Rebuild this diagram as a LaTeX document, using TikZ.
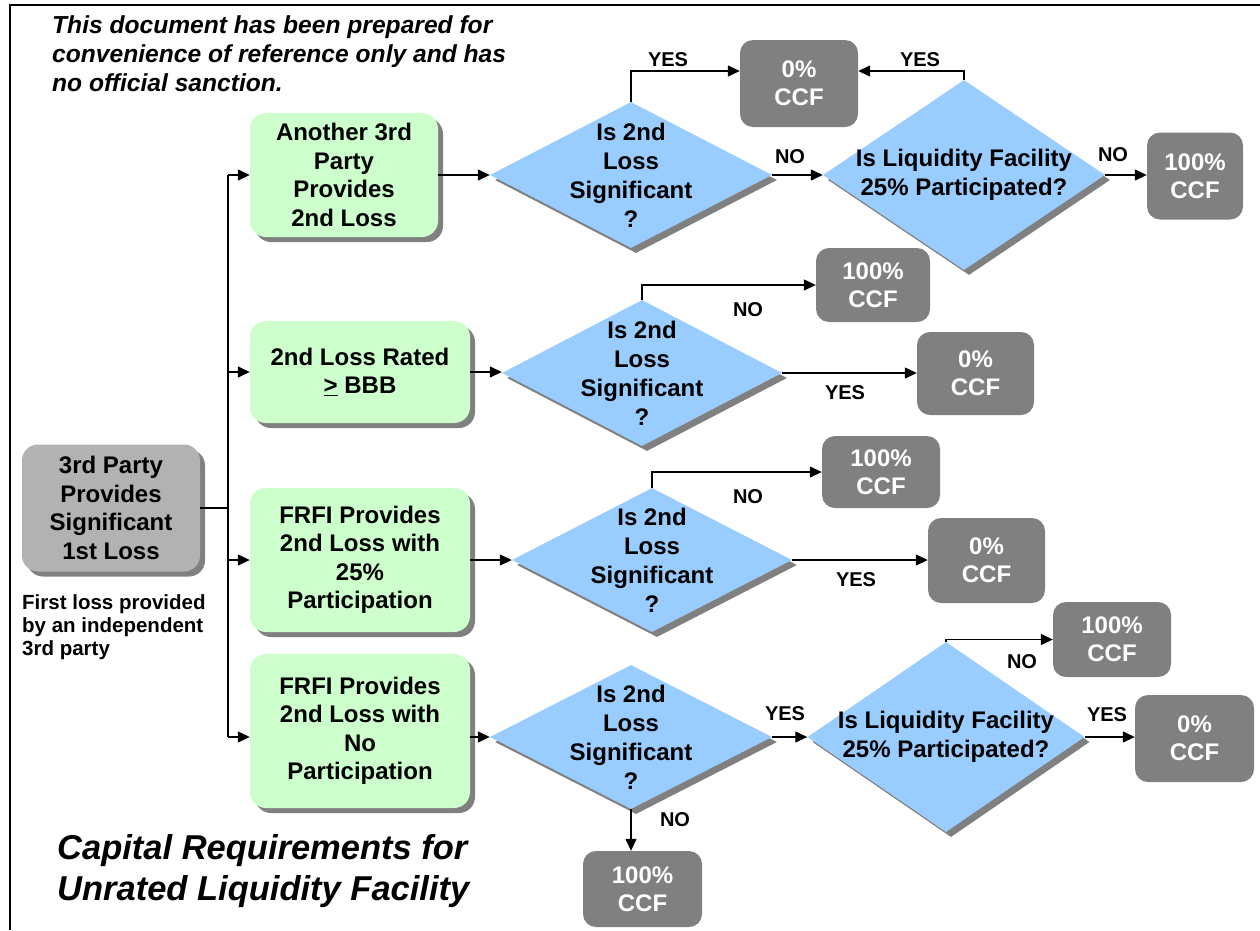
\documentclass[tikz,border=0pt]{standalone}
\usepackage{fontspec}
\setmainfont{Liberation Sans}
\usetikzlibrary{shapes.geometric,arrows.meta,shadows}
\definecolor{greenfill}{HTML}{CCFFCC}
\definecolor{bluefill}{HTML}{99CCFF}
\definecolor{ccfgray}{HTML}{808080}
\definecolor{startgray}{HTML}{B2B2B2}
\definecolor{shadowgray}{HTML}{808080}
\tikzset{
  shad/.style={drop shadow={shadow xshift=5pt, shadow yshift=-5pt, fill=shadowgray, opacity=1}},
  ccf/.style={rectangle, rounded corners=13pt, fill=ccfgray, text=white, inner sep=0pt,
    font=\fontsize{24}{28}\selectfont\bfseries, align=center},
  gbox/.style={rectangle, rounded corners=16pt, fill=greenfill, inner sep=0pt, shad,
    font=\fontsize{24}{28.5}\selectfont\bfseries, align=center},
  sbox/.style={rectangle, rounded corners=16pt, fill=startgray, inner sep=0pt, shad,
    font=\fontsize{24}{28.5}\selectfont\bfseries, align=center},
  dia/.style={diamond, fill=bluefill, inner sep=0pt, shad},
  dtxt/.style={font=\fontsize{24}{29}\selectfont\bfseries, align=center, inner sep=0pt},
  lbl/.style={font=\fontsize{20}{22}\selectfont\bfseries, inner sep=0pt},
  ln/.style={line width=1.3pt},
  arr/.style={line width=1.3pt, -{Triangle[length=12pt,width=11pt]}},
}
\begin{document}
\begin{tikzpicture}[x=1pt,y=-1pt]
\useasboundingbox (0,0) rectangle (1260,930);
% frame
\draw[line width=2pt] (10,930) -- (10,5) -- (1260,5);

% notes and title
\node[anchor=north west, align=left, inner sep=0pt, font=\fontsize{24.6}{29}\selectfont\bfseries\itshape] (note) at (52,15)
  {This document has been prepared for\\convenience of reference only and has\\no official sanction.};
\node[anchor=north west, align=left, inner sep=0pt, font=\fontsize{34.5}{41}\selectfont\bfseries\itshape] (title) at (57,834)
  {Capital Requirements for\\Unrated Liquidity Facility};

% start box
\node[sbox, minimum width=178pt, minimum height=127pt] (lb) at (111,508)
  {3rd Party\\Provides\\Significant\\1st Loss};
\node[anchor=north west, align=left, inner sep=0pt, font=\fontsize{20.5}{23}\selectfont\bfseries] (cap) at (22,594)
  {First loss provided\\by an independent\\3rd party};

% green boxes
\node[gbox, minimum width=188pt, minimum height=124pt] (g1) at (344,175) {Another 3rd\\Party\\Provides\\2nd Loss};
\node[gbox, minimum width=220pt, minimum height=102pt] (g2) at (360,372) {2nd Loss Rated\\\underline{>} BBB};
\node[gbox, minimum width=220pt, minimum height=144pt] (g3) at (360,560) {FRFI Provides\\2nd Loss with\\25\%\\Participation};
\node[gbox, minimum width=220pt, minimum height=154pt] (g4) at (360,731) {FRFI Provides\\2nd Loss with\\No\\Participation};

% diamonds
\node[dia, minimum width=282pt, minimum height=146pt] (d1) at (631,175) {};
\node[dtxt] (d1t) at (d1) {Is 2nd\\Loss\\Significant\\?};
\node[dia, minimum width=282pt, minimum height=190pt] (d2) at (964,175) {};
\node[dtxt] (d2t) at (d2) {Is Liquidity Facility\\25\% Participated?};
\node[dia, minimum width=280pt, minimum height=146pt] (d3) at (642,373) {};
\node[dtxt] (d3t) at (d3) {Is 2nd\\Loss\\Significant\\?};
\node[dia, minimum width=280pt, minimum height=144pt] (d4) at (652,560) {};
\node[dtxt] (d4t) at (d4) {Is 2nd\\Loss\\Significant\\?};
\node[dia, minimum width=282pt, minimum height=144pt] (d5) at (631,737) {};
\node[dtxt] (d5t) at (d5) {Is 2nd\\Loss\\Significant\\?};
\node[dia, minimum width=277pt, minimum height=190pt] (d6) at (946,737) {};
\node[dtxt] (d6t) at (d6) {Is Liquidity Facility\\25\% Participated?};

% CCF boxes
\node[ccf, minimum width=118pt, minimum height=87pt] (c1) at (799,83.5) {0\%\\CCF};
\node[ccf, minimum width=96pt, minimum height=87pt] (c2) at (1195,176) {100\%\\CCF};
\node[ccf, minimum width=114pt, minimum height=74pt] (c3) at (873,285) {100\%\\CCF};
\node[ccf, minimum width=117pt, minimum height=83pt] (c4) at (975.5,373.5) {0\%\\CCF};
\node[ccf, minimum width=118pt, minimum height=72pt] (c5) at (881,472) {100\%\\CCF};
\node[ccf, minimum width=117pt, minimum height=85pt] (c6) at (986.5,560.5) {0\%\\CCF};
\node[ccf, minimum width=119pt, minimum height=76pt] (c7) at (642.5,889) {100\%\\CCF};
\node[ccf, minimum width=118pt, minimum height=75pt] (c8) at (1112,639.5) {100\%\\CCF};
\node[ccf, minimum width=119pt, minimum height=87pt] (c9) at (1194.5,738.5) {0\%\\CCF};

% trunk
\coordinate (t1) at (228,175);
\coordinate (t2) at (228,372);
\coordinate (t3) at (228,560);
\coordinate (t4) at (228,737);
\draw[ln] (lb.east) -- (lb.east -| t1);
\draw[ln] (t1) -- (t4);
\draw[arr] (t1) -- (g1.west);
\draw[arr] (t2) -- (g2.west);
\draw[arr] (t3) -- (g3.west);
\draw[arr] (t4) -- (t4 -| g4.west);

% boxes to diamonds
\draw[arr] (g1.east) -- (d1.west);
\draw[arr] (g2.east) -- (g2.east -| d3.west);
\draw[arr] (g3.east) -- (d4.west);
\draw[arr] (g4.east |- d5.west) -- (d5.west);

% row 1
\draw[arr] (d1.north) |- ([yshift=12.5pt]c1.west);
\draw[arr] (d2.north) |- ([yshift=12.5pt]c1.east);
\draw[arr] (d1.east) -- (d2.west);
\draw[arr] (d2.east) -- (d2.east -| c2.west);
\node[lbl] (y1) at (668,60) {YES};
\node[lbl] (y2) at (920,60) {YES};
\node[lbl] (n1) at (790,157) {NO};
\node[lbl] (n2) at (1113,155) {NO};

% row 2
\draw[arr] (d3.north) |- (c3.west);
\draw[arr] (d3.east) -- (d3.east -| c4.west);
\node[lbl] (n3) at (748,310) {NO};
\node[lbl] (y3) at (845,393) {YES};

% row 3
\draw[arr] (d4.north) |- (c5.west);
\draw[arr] (d4.east) -- (d4.east -| c6.west);
\node[lbl] (n4) at (748,497) {NO};
\node[lbl] (y4) at (856,580) {YES};

% row 4
\draw[arr] (d5.south) -- (d5.south |- c7.north);
\draw[arr] (d5.east) -- (d6.west);
\draw[arr] (d6.north) |- (c8.west);
\draw[arr] (d6.east) -- (d6.east -| c9.west);
\node[lbl] (n5) at (675,820) {NO};
\node[lbl] (y5) at (785,714) {YES};
\node[lbl] (n6) at (1022,662) {NO};
\node[lbl] (y6) at (1107,715) {YES};
\end{tikzpicture}
\end{document}
